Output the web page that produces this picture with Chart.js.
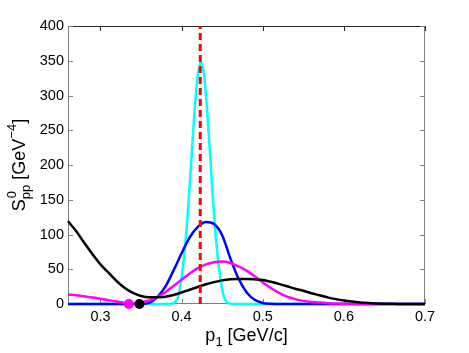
<!DOCTYPE html>
<html>
<head>
<meta charset="utf-8">
<script src="https://cdn.jsdelivr.net/npm/chart.js@4/dist/chart.umd.min.js"></script>
<style>
  html, body { margin: 0; padding: 0; background: #fff; }
  canvas { display: block; }
</style>
</head>
<body>
<canvas id="spectrum" width="469" height="353"></canvas>
<script>
// momentum grid p1 [GeV/c] shared by the broad curves
const pGrid = [0.26, 0.27, 0.28, 0.29, 0.30, 0.31, 0.32, 0.33, 0.34, 0.35,
  0.36, 0.37, 0.38, 0.39, 0.40, 0.41, 0.42, 0.43, 0.44, 0.45,
  0.46, 0.47, 0.48, 0.49, 0.50, 0.51, 0.52, 0.53, 0.54, 0.55,
  0.56, 0.57, 0.58, 0.59, 0.60, 0.61, 0.62, 0.63, 0.64, 0.65,
  0.66, 0.67, 0.68, 0.69, 0.70];

const blackVals = [119, 105, 88, 72, 57, 45, 33, 23, 16, 11.5,
  9.6, 9.6, 10.5, 13, 16.5, 20.5, 24.5, 28.5, 31.5, 34,
  35.5, 36, 36, 35.5, 34.5, 32, 29, 25.5, 22, 19,
  15.5, 12.5, 9.5, 7, 5, 3.5, 2.3, 1.4, 0.8, 0.4,
  0.2, 0.1, 0, 0, 0];

const magentaVals = [13.5, 12.5, 11, 9.5, 7.5, 5.5, 3.5, 1.5, 0.5, 2,
  5, 10, 17, 26, 35, 44, 51.5, 57, 60, 61,
  59, 54, 48, 40, 31, 23, 16, 10.5, 7, 4.5,
  3, 2, 1.2, 0.7, 0.4, 0.2, 0.1, 0, 0, 0,
  0, 0, 0, 0, 0];

const blueVals = [0, 0, 0, 0, 0, 0, 0, 0, 0, 0,
  1.5, 10, 25, 48, 73, 96, 111, 118, 115, 99,
  66, 37, 17, 6, 1.5, 0.3, 0, 0, 0, 0,
  0, 0, 0, 0, 0, 0, 0, 0, 0, 0,
  0, 0, 0, 0, 0];

// narrow peak needs a finer grid
const cyanP = [0.26, 0.384, 0.388, 0.392, 0.396, 0.400, 0.404, 0.408, 0.412, 0.416, 0.420,
  0.424, 0.428, 0.432, 0.436, 0.440, 0.444, 0.448, 0.452, 0.456, 0.460, 0.464, 0.70];
const cyanVals = [0, 0, 0.5, 3, 11, 38, 80, 137, 207, 278, 330,
  348, 326, 270, 198, 128, 73, 35, 11, 3, 0.5, 0, 0];

const peakP = 0.423;           // red dashed marker
const magentaDot = [0.335, 0]; // threshold points
const blackDot = [0.348, 0];

const xTicks = [0.3, 0.4, 0.5, 0.6, 0.7];
const yTicks = [0, 50, 100, 150, 200, 250, 300, 350, 400];

const FONT = '"Liberation Sans", Arial, Helvetica, sans-serif';
const AXIS_GRAY = '#7f7f7f';

const toPts = (xs, ys) => xs.map((x, i) => ({ x, y: ys[i] }));

const curve = (label, color, pts) => ({
  label, data: pts, borderColor: color, backgroundColor: color,
  borderWidth: 2.5, pointRadius: 0, fill: false,
  cubicInterpolationMode: 'monotone', clip: false
});

// frame, inward ticks and the axis titles with sub/superscripts
const framePlugin = {
  id: 'framePlugin',
  beforeDatasetsDraw(chart) {
    const { ctx, chartArea: { left, right, top, bottom }, scales: { x, y } } = chart;
    const tl = 5;
    ctx.save();
    ctx.lineWidth = 1;
    ctx.strokeStyle = '#262626';
    ctx.beginPath();
    ctx.moveTo(left, top + 0.5); ctx.lineTo(right, top + 0.5);
    xTicks.forEach(v => {
      const px = Math.round(x.getPixelForValue(v)) + 0.5;
      ctx.moveTo(px, top); ctx.lineTo(px, top + tl);
    });
    ctx.stroke();

    ctx.strokeStyle = AXIS_GRAY;
    ctx.beginPath();
    ctx.moveTo(left + 0.5, top); ctx.lineTo(left + 0.5, bottom);
    ctx.moveTo(right - 0.5, top); ctx.lineTo(right - 0.5, bottom);
    ctx.moveTo(left, bottom - 0.5); ctx.lineTo(right, bottom - 0.5);
    xTicks.forEach(v => {
      const px = Math.round(x.getPixelForValue(v)) + 0.5;
      ctx.moveTo(px, bottom); ctx.lineTo(px, bottom - tl);
    });
    yTicks.forEach(v => {
      const py = Math.round(y.getPixelForValue(v)) + 0.5;
      ctx.moveTo(left, py); ctx.lineTo(left + tl, py);
      ctx.moveTo(right, py); ctx.lineTo(right - tl, py);
    });
    ctx.stroke();
    ctx.restore();
  },
  afterDraw(chart) {
    const { ctx, chartArea: { left, right, top, bottom } } = chart;
    ctx.save();
    ctx.fillStyle = '#000';
    ctx.textBaseline = 'alphabetic';
    ctx.textAlign = 'left';

    // x title: p_1 [GeV/c]
    ctx.font = '18px ' + FONT;
    const wp = ctx.measureText('p').width;
    const wRest = ctx.measureText(' [GeV/c]').width;
    ctx.font = '13px ' + FONT;
    const w1 = ctx.measureText('1').width;
    let xx = (left + right) / 2 - (wp + w1 + wRest) / 2;
    ctx.font = '18px ' + FONT; ctx.fillText('p', xx, 341); xx += wp;
    ctx.font = '13px ' + FONT; ctx.fillText('1', xx, 346); xx += w1;
    ctx.font = '18px ' + FONT; ctx.fillText(' [GeV/c]', xx, 341);

    // y title: S^0_pp [GeV^-4]
    ctx.translate(24.5, (top + bottom) / 2);
    ctx.rotate(-Math.PI / 2);
    ctx.font = '13px ' + FONT;
    const wPP = ctx.measureText('pp').width;
    ctx.font = '18px ' + FONT;
    const wS = ctx.measureText('S').width;
    const wMid = ctx.measureText(' [GeV').width;
    const wEnd = ctx.measureText(']').width;
    ctx.font = '13px ' + FONT;
    const wSup = ctx.measureText('\u22124').width;
    const total = wS + wPP + wMid + wSup + wEnd;
    xx = -total / 2;
    ctx.font = '18px ' + FONT; ctx.fillText('S', xx, 0); xx += wS;
    ctx.font = '13px ' + FONT; ctx.fillText('0', xx + 1, -9); ctx.fillText('pp', xx, 5); xx += wPP;
    ctx.font = '18px ' + FONT; ctx.fillText(' [GeV', xx, 0); xx += wMid;
    ctx.font = '13px ' + FONT; ctx.fillText('\u22124', xx, -9); xx += wSup;
    ctx.font = '18px ' + FONT; ctx.fillText(']', xx, 0);
    ctx.restore();
  }
};

new Chart(document.getElementById('spectrum').getContext('2d'), {
  type: 'line',
  data: {
    datasets: [
      { label: 'dots', data: [{ x: magentaDot[0], y: magentaDot[1] }, { x: blackDot[0], y: blackDot[1] }],
        showLine: false, pointRadius: 5, pointBorderWidth: 0,
        pointBackgroundColor: ['#ff00ff', '#000000'], borderColor: 'transparent', clip: false },
      { label: 'peak', data: [{ x: peakP, y: 0 }, { x: peakP, y: 400 }],
        borderColor: '#ff0000', borderWidth: 3, borderDash: [7, 4], pointRadius: 0, tension: 0 },
      curve('black', '#000000', toPts(pGrid, blackVals)),
      curve('magenta', '#ff00ff', toPts(pGrid, magentaVals)),
      curve('blue', '#0000ff', toPts(pGrid, blueVals)),
      curve('cyan', '#00ffff', toPts(cyanP, cyanVals))
    ]
  },
  options: {
    responsive: false,
    animation: false,
    layout: { padding: { left: 0, right: 44, top: 26, bottom: 0 } },
    plugins: { legend: { display: false }, tooltip: { enabled: false } },
    scales: {
      x: {
        type: 'linear', min: 0.26, max: 0.7,
        afterBuildTicks: (axis) => { axis.ticks = xTicks.map(v => ({ value: v })); },
        afterFit: (s) => { s.height = 49; },
        grid: { display: false, drawTicks: false },
        border: { display: false },
        ticks: {
          padding: 4, color: '#000', maxRotation: 0,
          font: { family: FONT, size: 14.5 },
          callback: (v) => v.toFixed(1)
        }
      },
      y: {
        min: 0, max: 400,
        afterBuildTicks: (axis) => { axis.ticks = yTicks.map(v => ({ value: v })); },
        afterFit: (s) => { s.width = 68; },
        grid: { display: false, drawTicks: false },
        border: { display: false },
        ticks: {
          padding: 4, color: '#000',
          font: { family: FONT, size: 14.5 }
        }
      }
    }
  },
  plugins: [framePlugin]
});
</script>
</body>
</html>
